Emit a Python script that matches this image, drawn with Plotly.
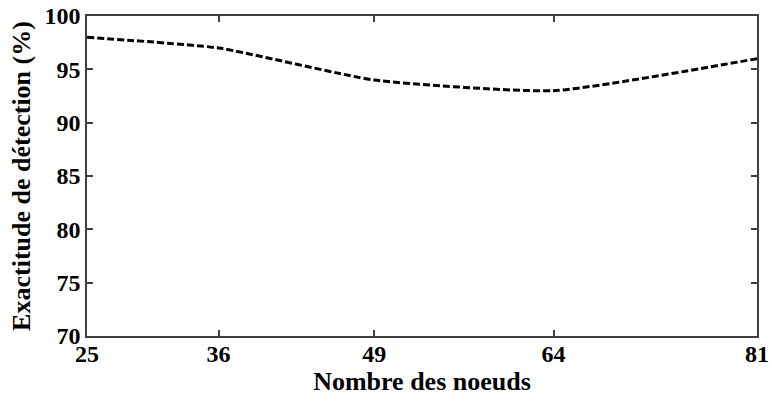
import plotly.graph_objects as go

nodes = [25, 36, 49, 64, 81]
accuracy = [98, 97, 94, 93, 96]
x_ticks = [25, 36, 49, 64, 81]
y_ticks = [70, 75, 80, 85, 90, 95, 100]

fig = go.Figure()
fig.add_trace(go.Scatter(
    x=nodes, y=accuracy, mode="lines",
    line=dict(color="black", width=3, dash="7px,3px", shape="spline", smoothing=0.5),
    showlegend=False,
))

font = dict(family="Liberation Serif", size=24, color="black", weight="bold")
axis_common = dict(
    showgrid=False, zeroline=False, showline=True, linecolor="#404040", linewidth=1.5,
    mirror="ticks", ticks="inside", ticklen=6, tickcolor="#404040", tickwidth=1.5,
    tickfont=font, automargin=False,
)
fig.update_layout(
    width=770, height=402,
    margin=dict(l=87, r=13, t=16, b=66),
    paper_bgcolor="white", plot_bgcolor="white",
    xaxis=dict(range=[25, 81], tickvals=x_ticks, ticktext=[str(v) for v in x_ticks],
               ticklabelstandoff=-5,
               title=dict(text="Nombre des noeuds", font=dict(family="Liberation Serif", size=26, color="black", weight="bold"), standoff=3),
               **axis_common),
    yaxis=dict(range=[70, 100], tickvals=y_ticks,
               title=dict(text="Exactitude de détection (%)", font=dict(family="Liberation Serif", size=26, color="black", weight="bold"), standoff=6),
               **axis_common),
)
fig.write_html("out.html", config={"displayModeBar": False},
               post_script="document.body.style.margin='0';document.body.style.overflow='hidden';")
